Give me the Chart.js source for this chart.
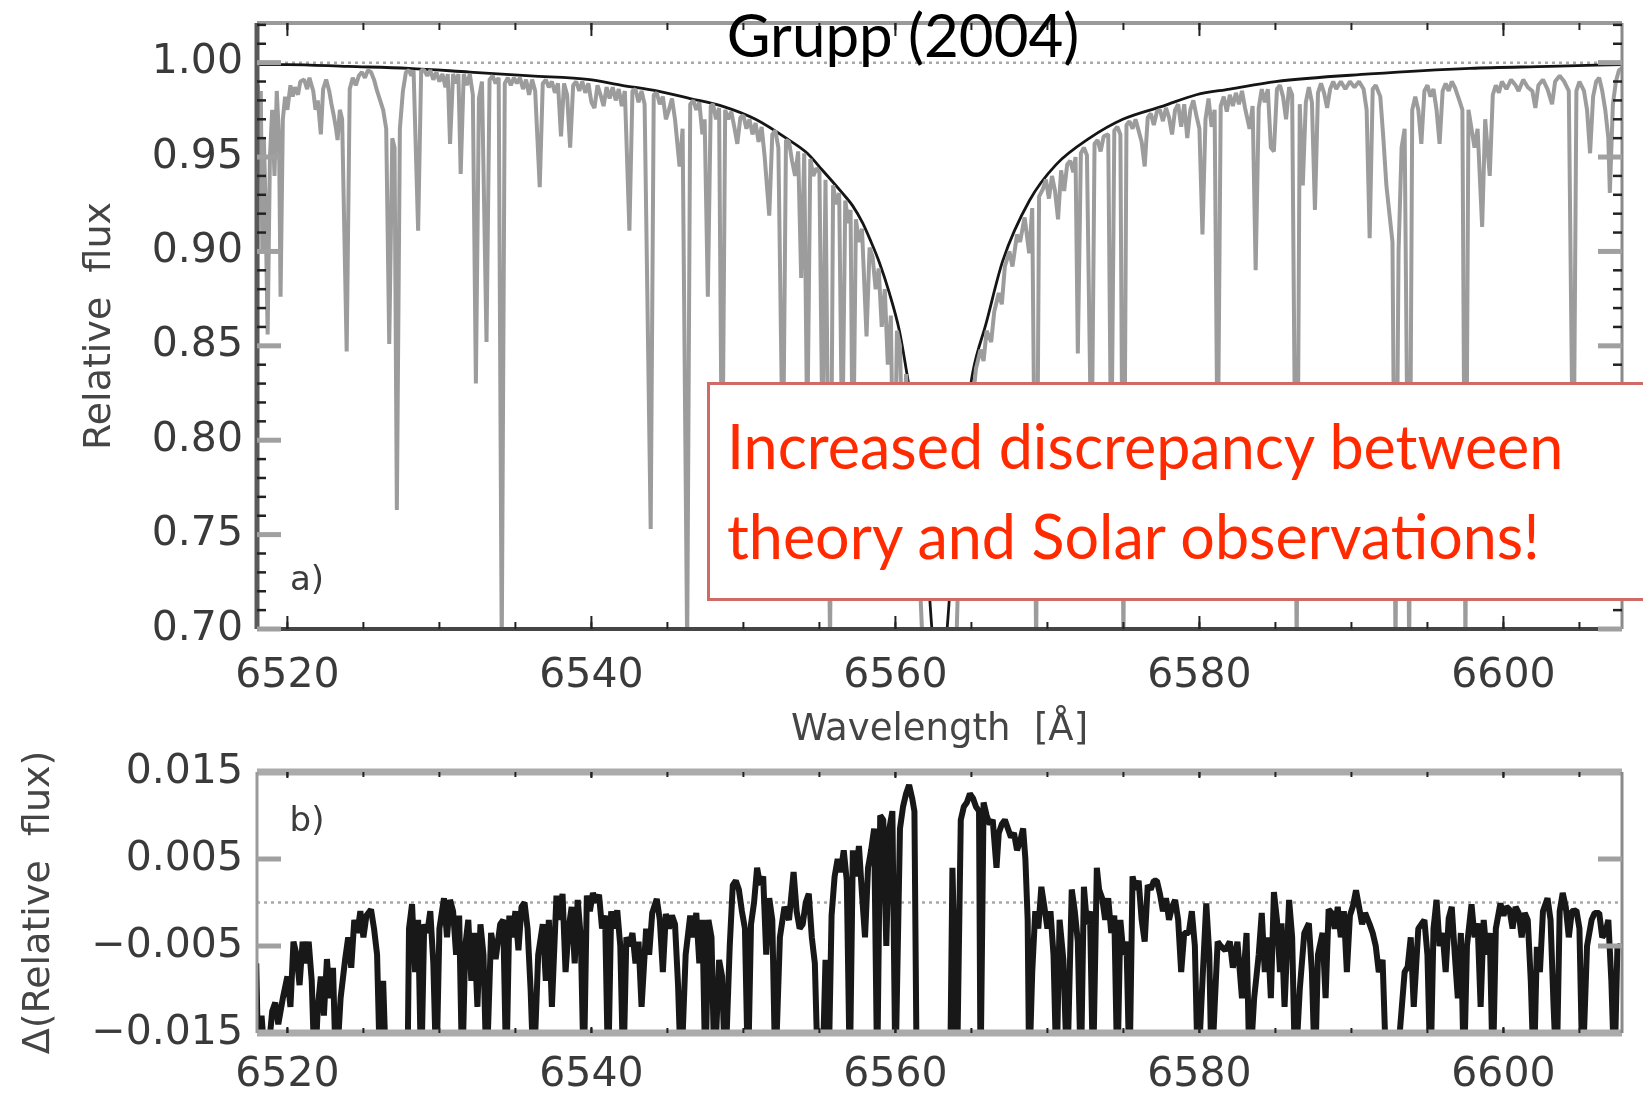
<!DOCTYPE html>
<html>
<head>
<meta charset="utf-8">
<title>Grupp (2004)</title>
<script src="https://cdn.jsdelivr.net/npm/chart.js@4.4.1/dist/chart.umd.min.js"></script>
<style>
  html, body { margin: 0; padding: 0; background: #fff; }
  #page { position: relative; width: 1643px; height: 1096px; overflow: hidden; background: #fff; }
  canvas.plot { position: absolute; left: 0; filter: blur(0.6px); }
  #spec { top: 0; }
  #resid { top: 740px; }
  #title {
    position: absolute; left: 903px; top: -2px; transform: translateX(-50%);
    font-family: Lato, "Open Sans", sans-serif; font-size: 60px; line-height: 1.2;
    color: #000; white-space: nowrap;
  }
  #note {
    position: absolute; left: 707px; top: 382px; width: 990px; height: 219px;
    box-sizing: border-box; border: 3px solid #cf6a67; background: #fff;
    padding: 16px 0 0 17px;
    font-family: Lato, "Open Sans", sans-serif; font-size: 61px; line-height: 90px;
    color: #ff2a00; white-space: nowrap;
  }
</style>
</head>
<body>
<div id="page">
  <canvas id="spec" class="plot" width="1643" height="760"></canvas>
  <canvas id="resid" class="plot" width="1643" height="356"></canvas>
  <div id="title">Grupp (2004)</div>
  <div id="note">Increased discrepancy between<br>theory and Solar observations!</div>
</div>
<script>
// axis ranges and tick values
const waveRange = [6518.0, 6607.8];
const fluxRange = [0.70, 1.021];
const residRange = [-0.015, 0.015];
const waveTicks = [6520, 6540, 6560, 6580, 6600];
const waveMinorTicks = [6520, 6525, 6530, 6535, 6540, 6545, 6550, 6555, 6560, 6565,
  6570, 6575, 6580, 6585, 6590, 6595, 6600, 6605];
const fluxTicks = [0.70, 0.75, 0.80, 0.85, 0.90, 0.95, 1.00];
const fluxMinorTicks = [0.71, 0.72, 0.73, 0.74, 0.76, 0.77, 0.78, 0.79, 0.81, 0.82, 0.83, 0.84,
  0.86, 0.87, 0.88, 0.89, 0.91, 0.92, 0.93, 0.94, 0.96, 0.97, 0.98, 0.99, 1.01, 1.02];
const residTicks = [-0.015, -0.005, 0.005, 0.015];
const continuumLevel = 1.0;
const zeroLevel = 0.0;

// synthetic H-alpha profile [wavelength, relative flux]
const theoryProfile = [
  [6518.0, 0.999], [6520.0, 0.999], [6524.0, 0.998], [6528.0, 0.997], [6532.0, 0.995],
  [6536.0, 0.993], [6539.9, 0.991], [6542.0, 0.988], [6544.3, 0.985], [6546.5, 0.981],
  [6548.6, 0.977], [6550.8, 0.970], [6553.0, 0.959], [6554.2, 0.952], [6555.2, 0.943],
  [6556.5, 0.931], [6557.2, 0.924], [6557.85, 0.915], [6558.4, 0.905], [6558.95, 0.894],
  [6559.6, 0.878], [6560.26, 0.858], [6560.7, 0.838], [6561.2, 0.812], [6561.7, 0.775],
  [6562.1, 0.735], [6562.4, 0.700], [6562.9, 0.660], [6563.4, 0.700], [6563.8, 0.745],
  [6564.3, 0.790], [6564.7, 0.815], [6565.09, 0.836], [6565.97, 0.862], [6567.06, 0.895],
  [6568.82, 0.927], [6570.57, 0.946], [6572.77, 0.960], [6574.96, 0.970], [6577.6, 0.977],
  [6579.8, 0.983], [6582.0, 0.986], [6585.0, 0.990], [6591.2, 0.994], [6597.8, 0.997],
  [6603.0, 0.998], [6607.8, 0.999]
];

// observed solar flux atlas [wavelength, relative flux]
const solarFlux = [
  [6517.95, 0.690], [6518.05, 0.988], [6518.15, 0.970], [6518.25, 0.985], [6518.35, 0.900],
  [6518.45, 0.960], [6518.55, 0.930], [6518.7, 0.856], [6518.85, 0.950], [6519.0, 0.975],
  [6519.15, 0.940], [6519.3, 0.985], [6519.45, 0.960], [6519.55, 0.876], [6519.7, 0.970],
  [6519.85, 0.982], [6520.0, 0.975], [6520.2, 0.988], [6520.35, 0.982], [6520.5, 0.987],
  [6520.7, 0.983], [6520.85, 0.990], [6521.1, 0.991], [6521.3, 0.986], [6521.45, 0.992],
  [6521.7, 0.985], [6521.85, 0.975], [6522.0, 0.980], [6522.2, 0.962], [6522.35, 0.986],
  [6522.55, 0.991], [6522.75, 0.985], [6522.9, 0.978], [6523.05, 0.972], [6523.2, 0.965],
  [6523.3, 0.959], [6523.45, 0.975], [6523.6, 0.970], [6523.9, 0.847], [6524.1, 0.986],
  [6524.3, 0.992], [6524.5, 0.988], [6524.7, 0.993], [6524.9, 0.995], [6525.1, 0.992],
  [6525.3, 0.996], [6525.5, 0.995], [6525.7, 0.991], [6525.9, 0.985], [6526.1, 0.980],
  [6526.3, 0.975], [6526.5, 0.965], [6526.7, 0.851], [6526.9, 0.960], [6527.05, 0.955],
  [6527.2, 0.763], [6527.4, 0.965], [6527.6, 0.985], [6527.8, 0.995], [6528.0, 0.996],
  [6528.15, 0.993], [6528.3, 0.996], [6528.6, 0.911], [6528.8, 0.996], [6529.0, 0.996],
  [6529.2, 0.993], [6529.4, 0.996], [6529.6, 0.991], [6529.8, 0.995], [6530.0, 0.990],
  [6530.2, 0.994], [6530.4, 0.987], [6530.55, 0.994], [6530.7, 0.957], [6530.9, 0.994],
  [6531.1, 0.989], [6531.25, 0.994], [6531.4, 0.941], [6531.6, 0.994], [6531.8, 0.988],
  [6532.0, 0.994], [6532.2, 0.983], [6532.4, 0.830], [6532.6, 0.981], [6532.8, 0.990],
  [6533.1, 0.852], [6533.3, 0.991], [6533.5, 0.993], [6533.7, 0.989], [6533.9, 0.992],
  [6534.1, 0.690], [6534.3, 0.989], [6534.5, 0.992], [6534.7, 0.988], [6534.9, 0.992],
  [6535.1, 0.989], [6535.3, 0.992], [6535.5, 0.986], [6535.7, 0.991], [6535.9, 0.983],
  [6536.1, 0.991], [6536.3, 0.985], [6536.6, 0.934], [6536.8, 0.989], [6537.0, 0.991],
  [6537.2, 0.987], [6537.4, 0.990], [6537.6, 0.984], [6537.8, 0.989], [6538.0, 0.961],
  [6538.2, 0.989], [6538.4, 0.983], [6538.6, 0.955], [6538.8, 0.988], [6539.0, 0.990],
  [6539.2, 0.985], [6539.4, 0.990], [6539.6, 0.984], [6539.8, 0.989], [6540.0, 0.979],
  [6540.2, 0.976], [6540.4, 0.988], [6540.6, 0.983], [6540.8, 0.977], [6541.0, 0.987],
  [6541.2, 0.981], [6541.4, 0.987], [6541.6, 0.980], [6541.8, 0.986], [6542.0, 0.977],
  [6542.2, 0.985], [6542.5, 0.911], [6542.7, 0.985], [6542.9, 0.986], [6543.1, 0.979],
  [6543.3, 0.985], [6543.5, 0.978], [6543.9, 0.753], [6544.1, 0.983], [6544.3, 0.984],
  [6544.5, 0.978], [6544.7, 0.982], [6544.9, 0.970], [6545.1, 0.975], [6545.3, 0.981],
  [6545.5, 0.970], [6545.8, 0.945], [6546.0, 0.965], [6546.3, 0.690], [6546.5, 0.978],
  [6546.7, 0.980], [6546.9, 0.975], [6547.1, 0.979], [6547.3, 0.962], [6547.45, 0.970],
  [6547.66, 0.876], [6547.85, 0.977], [6548.0, 0.978], [6548.2, 0.970], [6548.4, 0.976],
  [6548.6, 0.760], [6548.8, 0.975], [6549.0, 0.970], [6549.2, 0.974], [6549.4, 0.966],
  [6549.6, 0.957], [6549.8, 0.971], [6550.0, 0.972], [6550.2, 0.965], [6550.4, 0.970],
  [6550.6, 0.962], [6550.8, 0.968], [6551.0, 0.958], [6551.2, 0.966], [6551.4, 0.950],
  [6551.7, 0.919], [6551.9, 0.962], [6552.1, 0.964], [6552.3, 0.955], [6552.6, 0.780],
  [6552.8, 0.959], [6553.0, 0.958], [6553.2, 0.948], [6553.4, 0.940], [6553.6, 0.953],
  [6553.8, 0.886], [6554.0, 0.952], [6554.2, 0.800], [6554.4, 0.949], [6554.6, 0.940],
  [6554.8, 0.944], [6555.0, 0.942], [6555.2, 0.800], [6555.4, 0.938], [6555.7, 0.690],
  [6555.9, 0.935], [6556.1, 0.925], [6556.3, 0.931], [6556.5, 0.790], [6556.7, 0.927],
  [6556.9, 0.915], [6557.05, 0.922], [6557.2, 0.770], [6557.4, 0.917], [6557.6, 0.905],
  [6557.8, 0.912], [6558.1, 0.855], [6558.3, 0.902], [6558.5, 0.897], [6558.7, 0.880],
  [6558.9, 0.891], [6559.1, 0.860], [6559.3, 0.880], [6559.5, 0.840], [6559.7, 0.866],
  [6559.9, 0.750], [6560.1, 0.858], [6560.3, 0.850], [6560.5, 0.780], [6560.7, 0.835],
  [6560.9, 0.800], [6561.2, 0.790], [6561.5, 0.745], [6561.8, 0.690], [6562.9, 0.620],
  [6564.0, 0.690], [6564.3, 0.775], [6564.6, 0.808], [6564.9, 0.828], [6565.1, 0.822],
  [6565.3, 0.838], [6565.6, 0.848], [6565.8, 0.842], [6566.0, 0.858], [6566.3, 0.852],
  [6566.5, 0.868], [6566.8, 0.878], [6567.0, 0.872], [6567.2, 0.892], [6567.5, 0.900],
  [6567.7, 0.892], [6568.0, 0.909], [6568.2, 0.905], [6568.5, 0.918], [6568.8, 0.899],
  [6569.0, 0.923], [6569.26, 0.690], [6569.45, 0.929], [6569.7, 0.933], [6569.9, 0.938],
  [6570.1, 0.928], [6570.3, 0.940], [6570.5, 0.932], [6570.7, 0.917], [6570.9, 0.943],
  [6571.1, 0.932], [6571.3, 0.946], [6571.5, 0.948], [6571.7, 0.942], [6571.85, 0.950],
  [6572.0, 0.846], [6572.2, 0.952], [6572.4, 0.955], [6572.6, 0.951], [6572.9, 0.780],
  [6573.1, 0.957], [6573.3, 0.959], [6573.5, 0.953], [6573.7, 0.961], [6574.0, 0.962],
  [6574.2, 0.780], [6574.4, 0.964], [6574.6, 0.966], [6574.8, 0.962], [6575.0, 0.690],
  [6575.2, 0.967], [6575.4, 0.969], [6575.6, 0.965], [6575.8, 0.970], [6576.0, 0.964],
  [6576.2, 0.958], [6576.4, 0.945], [6576.6, 0.971], [6576.8, 0.973], [6577.0, 0.967],
  [6577.2, 0.974], [6577.4, 0.975], [6577.6, 0.969], [6577.8, 0.976], [6578.0, 0.971],
  [6578.2, 0.962], [6578.4, 0.975], [6578.6, 0.978], [6578.8, 0.966], [6579.0, 0.978],
  [6579.2, 0.960], [6579.4, 0.975], [6579.6, 0.980], [6579.8, 0.972], [6580.0, 0.965],
  [6580.2, 0.909], [6580.4, 0.970], [6580.6, 0.981], [6580.8, 0.966], [6581.0, 0.975],
  [6581.2, 0.780], [6581.4, 0.977], [6581.6, 0.982], [6581.8, 0.974], [6582.0, 0.983],
  [6582.2, 0.977], [6582.4, 0.984], [6582.6, 0.978], [6582.8, 0.985], [6583.0, 0.976],
  [6583.3, 0.965], [6583.5, 0.977], [6583.7, 0.890], [6583.9, 0.976], [6584.1, 0.986],
  [6584.3, 0.979], [6584.5, 0.986], [6584.7, 0.955], [6584.9, 0.953], [6585.1, 0.986],
  [6585.3, 0.988], [6585.5, 0.982], [6585.7, 0.970], [6585.9, 0.987], [6586.1, 0.983],
  [6586.4, 0.690], [6586.6, 0.978], [6586.8, 0.935], [6587.0, 0.979], [6587.2, 0.987],
  [6587.4, 0.979], [6587.6, 0.922], [6587.8, 0.984], [6588.0, 0.989], [6588.2, 0.984],
  [6588.4, 0.976], [6588.6, 0.986], [6588.8, 0.990], [6589.0, 0.986], [6589.3, 0.990],
  [6589.6, 0.986], [6589.9, 0.990], [6590.2, 0.987], [6590.5, 0.990], [6590.8, 0.986],
  [6591.0, 0.975], [6591.2, 0.907], [6591.4, 0.986], [6591.6, 0.988], [6591.9, 0.982],
  [6592.1, 0.960], [6592.3, 0.935], [6592.5, 0.920], [6592.7, 0.905], [6592.9, 0.690],
  [6593.1, 0.900], [6593.3, 0.955], [6593.5, 0.965], [6593.8, 0.690], [6594.0, 0.975],
  [6594.2, 0.982], [6594.4, 0.975], [6594.6, 0.957], [6594.8, 0.985], [6595.0, 0.988],
  [6595.2, 0.982], [6595.4, 0.986], [6595.6, 0.975], [6595.8, 0.957], [6596.0, 0.985],
  [6596.2, 0.989], [6596.4, 0.985], [6596.6, 0.990], [6596.8, 0.987], [6597.1, 0.980],
  [6597.3, 0.975], [6597.5, 0.690], [6597.7, 0.975], [6597.9, 0.965], [6598.1, 0.955],
  [6598.3, 0.965], [6598.6, 0.913], [6598.8, 0.970], [6599.1, 0.940], [6599.3, 0.983],
  [6599.5, 0.988], [6599.7, 0.984], [6599.9, 0.990], [6600.2, 0.986], [6600.5, 0.991],
  [6600.8, 0.988], [6601.0, 0.985], [6601.3, 0.991], [6601.6, 0.987], [6601.9, 0.985],
  [6602.1, 0.976], [6602.3, 0.988], [6602.6, 0.991], [6602.9, 0.986], [6603.2, 0.978],
  [6603.4, 0.990], [6603.7, 0.993], [6604.0, 0.990], [6604.3, 0.985], [6604.6, 0.760],
  [6604.8, 0.985], [6605.0, 0.990], [6605.3, 0.985], [6605.5, 0.975], [6605.7, 0.952],
  [6605.9, 0.982], [6606.1, 0.990], [6606.3, 0.992], [6606.5, 0.985], [6606.7, 0.975],
  [6606.9, 0.960], [6607.0, 0.931], [6607.2, 0.978], [6607.4, 0.990], [6607.6, 0.996],
  [6607.8, 0.997]
];

// observed minus synthetic [wavelength, delta flux]
const residual = [
  [6517.95, -0.007], [6518.1, -0.02], [6518.3, -0.013], [6518.6, -0.02], [6519.0, -0.0125],
  [6519.2, -0.0115], [6519.4, -0.014], [6519.7, -0.011], [6520.0, -0.0085], [6520.2, -0.012],
  [6520.4, -0.0045], [6520.6, -0.006], [6520.8, -0.0095], [6521.0, -0.0045], [6521.2, -0.007],
  [6521.4, -0.0045], [6521.6, -0.009], [6521.8, -0.02], [6522.0, -0.012], [6522.2, -0.0085],
  [6522.4, -0.013], [6522.6, -0.0065], [6522.8, -0.011], [6523.0, -0.0075], [6523.2, -0.02],
  [6523.5, -0.011], [6523.8, -0.0065], [6524.0, -0.004], [6524.2, -0.0075], [6524.4, -0.002],
  [6524.6, -0.0035], [6524.8, -0.001], [6525.0, -0.004], [6525.2, -0.0015], [6525.5, -0.0008],
  [6525.7, -0.003], [6525.9, -0.006], [6526.1, -0.02], [6526.3, -0.009], [6526.5, -0.02],
  [6527.9, -0.02], [6528.0, -0.003], [6528.2, -0.0002], [6528.4, -0.008], [6528.6, -0.002],
  [6528.8, -0.02], [6529.0, -0.0025], [6529.2, -0.0035], [6529.4, -0.001], [6529.6, -0.007],
  [6529.8, -0.02], [6530.0, -0.003], [6530.3, 0.0005], [6530.5, -0.004], [6530.7, 0.0003],
  [6530.9, -0.001], [6531.1, -0.006], [6531.3, -0.0015], [6531.5, -0.02], [6531.7, -0.005],
  [6531.9, -0.002], [6532.1, -0.009], [6532.3, -0.0035], [6532.5, -0.012], [6532.7, -0.0025],
  [6532.9, -0.006], [6533.1, -0.02], [6533.4, -0.0035], [6533.7, -0.0065], [6534.0, -0.0025],
  [6534.2, -0.002], [6534.4, -0.02], [6534.6, -0.0015], [6534.8, -0.004], [6535.0, -0.001],
  [6535.2, -0.0055], [6535.4, -0.0005], [6535.6, 0.0], [6535.8, -0.003], [6536.0, -0.01],
  [6536.2, -0.02], [6536.5, -0.006], [6536.8, -0.0025], [6537.0, -0.009], [6537.2, -0.002],
  [6537.4, -0.012], [6537.7, 0.0008], [6537.9, -0.002], [6538.1, 0.001], [6538.3, -0.008],
  [6538.5, -0.003], [6538.7, -0.0005], [6538.9, -0.007], [6539.1, 0.0003], [6539.3, -0.004],
  [6539.5, -0.02], [6539.7, 0.0008], [6539.9, -0.001], [6540.1, 0.0011], [6540.3, 0.0],
  [6540.5, 0.0009], [6540.7, -0.003], [6540.9, -0.0015], [6541.1, -0.02], [6541.3, -0.001],
  [6541.5, -0.003], [6541.7, -0.0009], [6541.9, -0.005], [6542.1, -0.02], [6542.3, -0.004],
  [6542.5, -0.005], [6542.7, -0.0035], [6542.9, -0.007], [6543.1, -0.0045], [6543.3, -0.012],
  [6543.6, -0.003], [6543.8, -0.006], [6544.0, -0.0012], [6544.3, 0.0004], [6544.5, -0.002],
  [6544.7, -0.008], [6544.9, -0.0013], [6545.1, -0.003], [6545.3, -0.0015], [6545.5, -0.0025],
  [6545.7, -0.0095], [6545.9, -0.02], [6546.2, -0.006], [6546.5, -0.0015], [6546.7, -0.004],
  [6546.9, -0.0012], [6547.1, -0.007], [6547.3, -0.002], [6547.5, -0.02], [6547.7, -0.002],
  [6547.9, -0.004], [6548.1, -0.02], [6548.4, -0.0066], [6548.6, -0.0085], [6548.8, -0.02],
  [6549.1, -0.005], [6549.3, 0.002], [6549.5, 0.0025], [6549.7, 0.0015], [6549.9, -0.001],
  [6550.1, -0.003], [6550.3, -0.02], [6550.5, -0.0025], [6550.7, 0.0], [6550.9, 0.004],
  [6551.1, 0.002], [6551.3, 0.003], [6551.5, -0.006], [6551.7, 0.0005], [6551.9, -0.002],
  [6552.1, -0.02], [6552.4, -0.004], [6552.7, -0.0005], [6553.0, -0.002], [6553.3, 0.0035],
  [6553.5, -0.001], [6553.7, -0.003], [6553.9, -0.0025], [6554.1, 0.0], [6554.3, 0.001],
  [6554.5, -0.004], [6554.7, -0.007], [6554.9, -0.02], [6555.2, -0.02], [6555.4, -0.0066],
  [6555.6, -0.02], [6555.8, -0.0015], [6556.0, 0.003], [6556.2, 0.005], [6556.4, 0.0035],
  [6556.6, 0.006], [6556.8, 0.0025], [6557.0, -0.02], [6557.2, 0.006], [6557.4, 0.003],
  [6557.6, 0.0065], [6557.8, 0.001], [6558.0, -0.004], [6558.2, 0.004], [6558.4, 0.006],
  [6558.6, 0.0085], [6558.8, -0.02], [6559.0, 0.010], [6559.2, 0.0095], [6559.4, -0.005],
  [6559.6, 0.0085], [6559.8, 0.0105], [6560.0, -0.02], [6560.3, 0.0085], [6560.5, 0.011],
  [6560.7, 0.0125], [6560.9, 0.0135], [6561.1, 0.012], [6561.25, 0.0105], [6561.4, -0.02],
  [6563.6, -0.02], [6563.75, 0.004], [6563.9, -0.007], [6564.05, -0.02], [6564.3, 0.0095],
  [6564.5, 0.011], [6564.7, 0.0115], [6564.9, 0.0125], [6565.1, 0.012], [6565.3, 0.011],
  [6565.5, 0.0105], [6565.6, -0.02], [6565.8, 0.0115], [6566.0, 0.010], [6566.2, 0.009],
  [6566.4, 0.0095], [6566.65, 0.004], [6566.8, 0.008], [6567.0, 0.009], [6567.2, 0.0095],
  [6567.4, 0.0085], [6567.6, 0.0075], [6567.8, 0.008], [6568.0, 0.006], [6568.2, 0.007],
  [6568.4, 0.0085], [6568.55, 0.005], [6568.7, -0.002], [6568.8, -0.02], [6569.0, -0.008],
  [6569.2, -0.001], [6569.4, -0.003], [6569.6, 0.0018], [6569.8, -0.0005], [6570.0, -0.003],
  [6570.2, -0.001], [6570.4, -0.006], [6570.6, -0.02], [6570.8, -0.002], [6571.05, -0.0066],
  [6571.3, -0.02], [6571.6, 0.0015], [6571.8, -0.001], [6572.0, -0.0045], [6572.2, -0.02],
  [6572.4, 0.0018], [6572.6, -0.0025], [6572.8, -0.001], [6573.0, -0.02], [6573.25, 0.004],
  [6573.4, 0.0015], [6573.6, 0.0005], [6573.8, -0.002], [6574.0, 0.0005], [6574.2, -0.0035],
  [6574.4, -0.0015], [6574.6, -0.02], [6574.8, -0.002], [6575.0, -0.006], [6575.2, -0.0045],
  [6575.4, -0.02], [6575.6, 0.003], [6575.8, 0.0015], [6576.0, 0.0025], [6576.2, -0.002],
  [6576.4, -0.0045], [6576.6, 0.002], [6576.8, 0.0015], [6577.0, 0.0025], [6577.2, 0.0025],
  [6577.4, 0.001], [6577.6, -0.001], [6577.8, 0.0005], [6578.0, -0.002], [6578.2, -0.0005],
  [6578.4, 0.0003], [6578.6, -0.002], [6578.8, -0.008], [6579.0, -0.0035], [6579.3, -0.0035],
  [6579.5, -0.001], [6579.7, -0.005], [6579.9, -0.02], [6580.2, -0.009], [6580.45, -0.0001],
  [6580.65, -0.006], [6580.8, -0.02], [6581.0, -0.012], [6581.2, -0.0045], [6581.4, -0.005],
  [6581.7, -0.0055], [6582.0, -0.0045], [6582.2, -0.0075], [6582.5, -0.0045], [6582.8, -0.011],
  [6583.1, -0.0035], [6583.3, -0.02], [6583.6, -0.011], [6583.9, -0.006], [6584.1, -0.0012],
  [6584.3, -0.008], [6584.5, -0.004], [6584.7, -0.011], [6584.9, 0.0012], [6585.1, -0.002],
  [6585.3, -0.008], [6585.4, -0.0024], [6585.6, -0.012], [6585.9, 0.0003], [6586.1, -0.004],
  [6586.3, -0.02], [6586.6, -0.01], [6586.9, -0.0035], [6587.2, -0.0024], [6587.4, -0.008],
  [6587.6, -0.02], [6587.8, -0.006], [6588.1, -0.0035], [6588.3, -0.011], [6588.5, -0.0008],
  [6588.7, -0.0012], [6588.9, -0.003], [6589.1, -0.0005], [6589.3, -0.004], [6589.5, -0.001],
  [6589.7, -0.008], [6589.9, -0.0015], [6590.1, -0.0004], [6590.3, 0.0014], [6590.5, -0.0005],
  [6590.7, -0.0025], [6590.9, -0.0012], [6591.2, -0.0025], [6591.4, -0.0035], [6591.6, -0.005],
  [6591.8, -0.008], [6592.05, -0.0066], [6592.3, -0.02], [6593.0, -0.02], [6593.2, -0.0145],
  [6593.5, -0.008], [6593.7, -0.0074], [6593.9, -0.004], [6594.1, -0.012], [6594.4, -0.003],
  [6594.6, -0.0025], [6594.8, -0.002], [6595.0, -0.006], [6595.2, -0.02], [6595.4, -0.003],
  [6595.6, 0.0003], [6595.8, -0.005], [6596.0, -0.0035], [6596.2, -0.008], [6596.4, -0.0018],
  [6596.6, -0.0005], [6596.8, -0.006], [6597.0, -0.011], [6597.2, -0.0035], [6597.4, -0.02],
  [6597.6, -0.005], [6597.9, -0.0002], [6598.1, -0.004], [6598.3, -0.0024], [6598.5, -0.012],
  [6598.7, -0.002], [6598.9, -0.006], [6599.1, -0.0035], [6599.3, -0.02], [6599.5, -0.003],
  [6599.8, -0.0001], [6600.0, -0.0015], [6600.2, -0.0005], [6600.4, -0.0008], [6600.6, -0.003],
  [6600.8, -0.0005], [6601.0, -0.0012], [6601.2, -0.004], [6601.4, -0.0012], [6601.6, -0.002],
  [6601.8, -0.009], [6602.0, -0.02], [6602.2, -0.0051], [6602.4, -0.008], [6602.6, -0.001],
  [6602.9, 0.0005], [6603.1, -0.002], [6603.3, -0.012], [6603.5, -0.02], [6603.7, -0.001],
  [6603.9, 0.0011], [6604.1, -0.0005], [6604.3, -0.004], [6604.5, -0.001], [6604.8, -0.0009],
  [6605.0, -0.003], [6605.2, -0.02], [6605.5, -0.005], [6605.8, -0.002], [6606.0, -0.0012],
  [6606.3, -0.0012], [6606.5, -0.004], [6606.7, -0.0035], [6606.9, -0.002], [6607.1, -0.009],
  [6607.3, -0.02], [6607.5, -0.005], [6607.7, -0.0051]
];

const toXY = (pairs) => pairs.map(([x, y]) => ({ x, y }));
const flatLine = (level) => [{ x: waveRange[0], y: level }, { x: waveRange[1], y: level }];

const TICK_FONT = { family: 'DejaVu Sans', size: 41, lineHeight: 1 };
const TITLE_COLOR = '#454545';
const TICK_COLOR = '#3a3a3a';

// frame, inward tick marks and the panel tag, IDL style
const idlFrame = {
  id: 'idlFrame',
  afterDatasetsDraw(chart, args, o) {
    const { ctx, chartArea: a, scales: { x, y } } = chart;
    const seg = (x1, y1, x2, y2, color, w) => {
      ctx.strokeStyle = color; ctx.lineWidth = w;
      ctx.beginPath(); ctx.moveTo(x1, y1); ctx.lineTo(x2, y2); ctx.stroke();
    };
    ctx.save();
    ctx.lineCap = 'butt';
    const f = o.frame;
    seg(a.left, a.top, a.right, a.top, f.top[0], f.top[1]);
    seg(a.left, a.bottom, a.right, a.bottom, f.bottom[0], f.bottom[1]);
    seg(a.left, a.top, a.left, a.bottom, f.left[0], f.left[1]);
    seg(a.right, a.top, a.right, a.bottom, f.right[0], f.right[1]);

    o.xMinor.forEach((v) => {
      const px = x.getPixelForValue(v);
      seg(px, a.bottom, px, a.bottom - o.xMinorLen, '#222', 2);
      seg(px, a.top, px, a.top + o.xMinorLen, '#222', 2);
    });
    o.xMajor.forEach((v) => {
      const px = x.getPixelForValue(v);
      seg(px, a.bottom, px, a.bottom - o.xMajorLen, '#222', 2);
      seg(px, a.top, px, a.top + o.xMajorLen, '#222', 2);
    });
    o.yMinor.forEach((v) => {
      const py = y.getPixelForValue(v);
      seg(a.left, py, a.left + o.yMinorLen, py, '#222', 2.5);
      seg(a.right, py, a.right - o.yMinorLen, py, '#222', 2.5);
    });
    o.yMajor.forEach((v) => {
      const py = y.getPixelForValue(v);
      seg(a.left, py, a.left + o.yMajorLen, py, '#a0a0a0', 5);
      seg(a.right, py, a.right - o.yMajorLen, py, '#a0a0a0', 5);
    });

    ctx.fillStyle = '#3c3c3c';
    ctx.font = '34px "DejaVu Sans"';
    ctx.textAlign = 'center';
    ctx.textBaseline = 'middle';
    const ty = o.tag.fromTop ? a.top + o.tag.dy : a.bottom - o.tag.dy;
    ctx.fillText(o.tag.text, a.left + o.tag.dx, ty);
    ctx.restore();
  }
};

// fixed axis boxes; the label overhang padding is dropped so the plot frame sits where it should
const fixWidth = (w) => (s) => { s.width = w; s.paddingTop = 0; s.paddingBottom = 0; };
const fixHeight = (h) => (s) => { s.height = h; s.paddingLeft = 0; s.paddingRight = 0; };

const baseAxis = (extra) => Object.assign({
  type: 'linear',
  grid: { display: false, drawTicks: false },
  border: { display: false },
}, extra);

// panel a: observed spectrum and synthetic profile
new Chart(document.getElementById('spec'), {
  type: 'line',
  data: {
    datasets: [
      { data: toXY(solarFlux), borderColor: '#9c9c9c', borderWidth: 4, borderJoinStyle: 'bevel',
        pointRadius: 0, tension: 0 },
      { data: toXY(theoryProfile), borderColor: '#151515', borderWidth: 2.8, pointRadius: 0,
        cubicInterpolationMode: 'monotone' },
      { data: flatLine(continuumLevel), borderColor: '#a8a8a8', borderWidth: 2.5,
        borderDash: [3, 4], pointRadius: 0 },
    ],
  },
  options: {
    responsive: false, animation: false,
    layout: { padding: { top: 23, right: 21, left: 0, bottom: 0 } },
    scales: {
      x: baseAxis({
        min: waveRange[0], max: waveRange[1],
        afterBuildTicks: (s) => { s.ticks = waveTicks.map((value) => ({ value })); },
        afterFit: fixHeight(131),
        ticks: { font: TICK_FONT, color: TICK_COLOR, padding: 27, maxRotation: 0, autoSkip: false,
          callback: (v) => String(v) },
        title: { display: true, text: 'Wavelength  [Å]', color: TITLE_COLOR,
          font: { family: 'DejaVu Sans', size: 37, lineHeight: 1.2 }, padding: { top: 0, bottom: 7 } },
      }),
      y: baseAxis({
        min: fluxRange[0], max: fluxRange[1],
        afterBuildTicks: (s) => { s.ticks = fluxTicks.map((value) => ({ value })); },
        afterFit: fixWidth(257),
        ticks: { font: TICK_FONT, color: TICK_COLOR, padding: 14, autoSkip: false,
          callback: (v) => v.toFixed(2) },
        title: { display: true, text: 'Relative  flux', color: TITLE_COLOR,
          font: { family: 'DejaVu Sans', size: 38, lineHeight: 1.2 }, padding: { top: 77, bottom: 0 } },
      }),
    },
    plugins: {
      legend: { display: false },
      tooltip: { enabled: false },
      idlFrame: {
        frame: { top: ['#9a9a9a', 4], bottom: ['#454545', 4], left: ['#5a5a5a', 5], right: ['#8a8a8a', 3] },
        xMajor: waveTicks, xMinor: waveMinorTicks, xMajorLen: 13, xMinorLen: 7,
        yMajor: fluxTicks, yMinor: fluxMinorTicks, yMajorLen: 24, yMinorLen: 9,
        tag: { text: 'a)', dx: 50, dy: 48, fromTop: false },
      },
    },
  },
  plugins: [idlFrame],
});

// panel b: residuals
new Chart(document.getElementById('resid'), {
  type: 'line',
  data: {
    datasets: [
      { data: toXY(residual), borderColor: '#181818', borderWidth: 6, borderJoinStyle: 'bevel',
        pointRadius: 0, tension: 0 },
      { data: flatLine(zeroLevel), borderColor: '#a8a8a8', borderWidth: 2.5,
        borderDash: [3, 4], pointRadius: 0 },
    ],
  },
  options: {
    responsive: false, animation: false,
    layout: { padding: { top: 32, right: 21, left: 0, bottom: 0 } },
    scales: {
      x: baseAxis({
        min: waveRange[0], max: waveRange[1],
        afterBuildTicks: (s) => { s.ticks = waveTicks.map((value) => ({ value })); },
        afterFit: fixHeight(63),
        ticks: { font: TICK_FONT, color: TICK_COLOR, padding: 22, maxRotation: 0, autoSkip: false,
          callback: (v) => String(v) },
      }),
      y: baseAxis({
        min: residRange[0], max: residRange[1],
        afterBuildTicks: (s) => { s.ticks = residTicks.map((value) => ({ value })); },
        afterFit: fixWidth(257),
        ticks: { font: TICK_FONT, color: TICK_COLOR, padding: 14, autoSkip: false,
          callback: (v) => v.toFixed(3).replace('-', '\u2212') },
        title: { display: true, text: 'Δ(Relative  flux)', color: TITLE_COLOR,
          font: { family: 'DejaVu Sans', size: 38, lineHeight: 1.2 }, padding: { top: 16, bottom: 0 } },
      }),
    },
    plugins: {
      legend: { display: false },
      tooltip: { enabled: false },
      idlFrame: {
        frame: { top: ['#ababab', 7], bottom: ['#ababab', 7], left: ['#9a9a9a', 3], right: ['#8a8a8a', 3] },
        xMajor: waveTicks, xMinor: waveMinorTicks, xMajorLen: 6, xMinorLen: 5,
        yMajor: [-0.005, 0.005], yMinor: [], yMajorLen: 24, yMinorLen: 0,
        tag: { text: 'b)', dx: 50, dy: 50, fromTop: true },
      },
    },
  },
  plugins: [idlFrame],
});
</script>
</body>
</html>
